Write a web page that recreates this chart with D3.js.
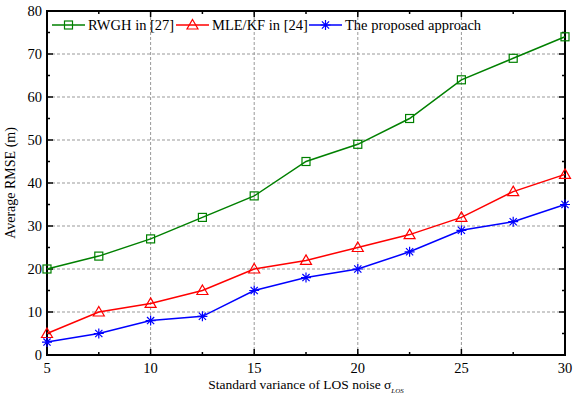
<!DOCTYPE html>
<html>
<head>
<meta charset="utf-8">
<script src="https://cdn.jsdelivr.net/npm/d3@7"></script>
<style>
  body { margin: 0; background: #fff; }
  text { font-family: "Liberation Serif", "Times New Roman", serif; }
</style>
</head>
<body>
<div id="chart"></div>
<script>
const noiseLevels = [5, 7.5, 10, 12.5, 15, 17.5, 20, 22.5, 25, 27.5, 30];
const rwgh = [20, 23, 27, 32, 37, 45, 49, 55, 64, 69, 74];
const mleKf = [5, 10, 12, 15, 20, 22, 25, 28, 32, 38, 42];
const proposed = [3, 5, 8, 9, 15, 18, 20, 24, 29, 31, 35];
const seriesNames = ["RWGH in [27]", "MLE/KF in [24]", "The proposed approach"];
const xTicks = [5, 10, 15, 20, 25, 30];
const yTicks = [0, 10, 20, 30, 40, 50, 60, 70, 80];

const width = 573, height = 396;
const margin = {left: 47, right: 8, top: 11, bottom: 41};

const svg = d3.select('#chart').append('svg')
    .attr('width', width)
    .attr('height', height);

const x = d3.scaleLinear().domain([5, 30]).range([margin.left, width - margin.right]);
const y = d3.scaleLinear().domain([0, 80]).range([height - margin.bottom, margin.top]);

// grid
const grid = svg.append('g').attr('stroke', '#999').attr('stroke-dasharray', '3,2').attr('stroke-width', 1);
xTicks.slice(1, -1).forEach(t => {
    grid.append('line').attr('x1', x(t)).attr('x2', x(t)).attr('y1', y(0)).attr('y2', y(80));
});
yTicks.slice(1, -1).forEach(t => {
    grid.append('line').attr('x1', x(5)).attr('x2', x(30)).attr('y1', y(t)).attr('y2', y(t));
});

// axes with inner ticks
const minorX = d3.range(7.5, 30, 5);
const minorY = d3.range(5, 80, 10);
const axes = svg.append('g').attr('stroke', '#000').attr('stroke-width', 1.5);
xTicks.forEach(t => {
    axes.append('line').attr('x1', x(t)).attr('x2', x(t)).attr('y1', y(0)).attr('y2', y(0) - 6);
    axes.append('line').attr('x1', x(t)).attr('x2', x(t)).attr('y1', y(80)).attr('y2', y(80) + 6);
});
minorX.forEach(t => {
    axes.append('line').attr('x1', x(t)).attr('x2', x(t)).attr('y1', y(0)).attr('y2', y(0) - 3);
    axes.append('line').attr('x1', x(t)).attr('x2', x(t)).attr('y1', y(80)).attr('y2', y(80) + 3);
});
yTicks.forEach(t => {
    axes.append('line').attr('x1', x(5)).attr('x2', x(5) + 6).attr('y1', y(t)).attr('y2', y(t));
    axes.append('line').attr('x1', x(30)).attr('x2', x(30) - 6).attr('y1', y(t)).attr('y2', y(t));
});
minorY.forEach(t => {
    axes.append('line').attr('x1', x(5)).attr('x2', x(5) + 3).attr('y1', y(t)).attr('y2', y(t));
    axes.append('line').attr('x1', x(30)).attr('x2', x(30) - 3).attr('y1', y(t)).attr('y2', y(t));
});
svg.append('rect')
    .attr('x', x(5)).attr('y', y(80))
    .attr('width', x(30) - x(5)).attr('height', y(0) - y(80))
    .attr('fill', 'none').attr('stroke', '#000').attr('stroke-width', 2);

// tick labels
svg.append('g').selectAll('text').data(xTicks).join('text')
    .attr('x', d => x(d)).attr('y', y(0) + 18)
    .attr('text-anchor', 'middle').attr('font-size', 14.5).text(d => d);
svg.append('g').selectAll('text').data(yTicks).join('text')
    .attr('x', x(5) - 5).attr('y', d => y(d) + 5)
    .attr('text-anchor', 'end').attr('font-size', 14.5).text(d => d);

// axis titles
const xl = svg.append('text')
    .attr('x', 306).attr('y', 389)
    .attr('text-anchor', 'middle').attr('font-size', 13.5);
xl.append('tspan').text('Standard variance of LOS noise \u03c3');
xl.append('tspan').attr('font-size', 7).attr('font-style', 'italic').attr('dy', 4).text('LOS');

svg.append('text')
    .attr('transform', `translate(15,${(y(0) + y(80)) / 2}) rotate(-90)`)
    .attr('text-anchor', 'middle').attr('font-size', 14)
    .text('Average RMSE (m)');

// series
const series = [
    {name: seriesNames[0], values: rwgh, color: '#008000', marker: 'square'},
    {name: seriesNames[1], values: mleKf, color: '#ff0000', marker: 'triangle'},
    {name: seriesNames[2], values: proposed, color: '#0000ff', marker: 'star'}
];

const line = d3.line().x((d, i) => x(noiseLevels[i])).y(d => y(d));

function drawMarker(g, type, color) {
    if (type === 'square') {
        g.append('rect').attr('x', -4).attr('y', -4).attr('width', 8).attr('height', 8)
            .attr('fill', 'none').attr('stroke', color).attr('stroke-width', 1.2);
    } else if (type === 'triangle') {
        g.append('path').attr('d', 'M0,-5.5L5.5,4L-5.5,4Z')
            .attr('fill', 'none').attr('stroke', color).attr('stroke-width', 1.2);
    } else {
        g.append('path').attr('d', 'M0,-5V5M-5,0H5M-3.6,-3.6L3.6,3.6M-3.6,3.6L3.6,-3.6')
            .attr('fill', 'none').attr('stroke', color).attr('stroke-width', 1.2);
    }
}

series.forEach(s => {
    svg.append('path').datum(s.values)
        .attr('d', line)
        .attr('fill', 'none').attr('stroke', s.color).attr('stroke-width', 1.5);
    s.values.forEach((v, i) => {
        const g = svg.append('g').attr('transform', `translate(${x(noiseLevels[i])},${y(v)})`);
        drawMarker(g, s.marker, s.color);
    });
});

// legend
const legendX = [52, 176, 309];
series.forEach((s, i) => {
    const g = svg.append('g').attr('transform', `translate(${legendX[i]},25)`);
    g.append('line').attr('x1', 0).attr('x2', 33).attr('stroke', s.color).attr('stroke-width', 1.5);
    drawMarker(g.append('g').attr('transform', 'translate(16.5,0)'), s.marker, s.color);
    g.append('text').attr('x', 36).attr('y', 5).attr('font-size', 14.5).text(s.name);
});
</script>
</body>
</html>
